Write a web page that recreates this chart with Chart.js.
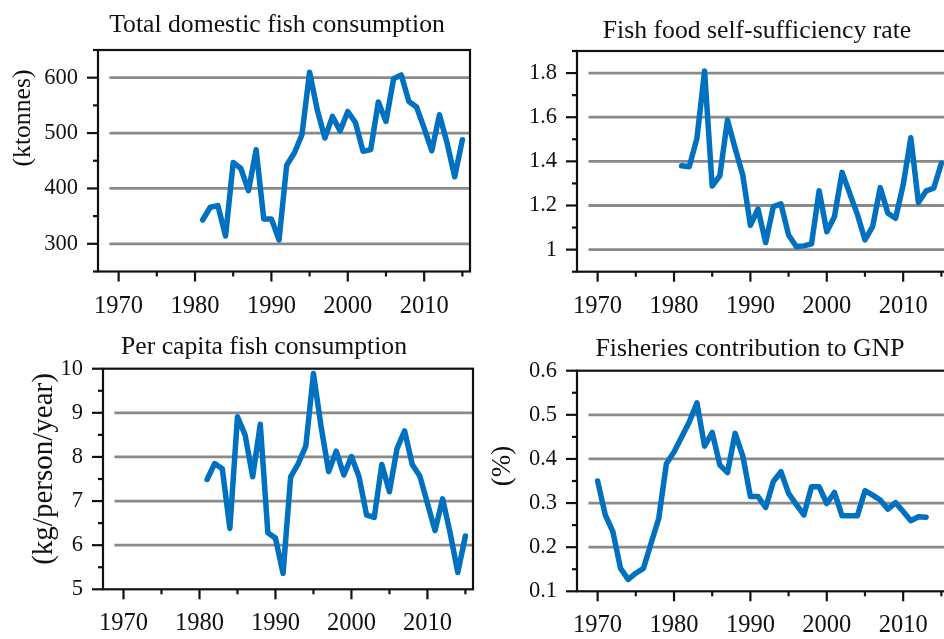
<!DOCTYPE html>
<html><head><meta charset="utf-8">
<script src="https://cdn.jsdelivr.net/npm/chart.js@4"></script>
<style>
html,body{margin:0;padding:0;background:#fff;overflow:hidden;width:944px;height:639px;position:relative}
canvas{position:absolute;left:0;top:0}
</style></head><body>
<canvas id="c1" width="960" height="639"></canvas>
<canvas id="c2" width="960" height="639"></canvas>
<canvas id="c3" width="960" height="639"></canvas>
<canvas id="c4" width="960" height="639"></canvas>
<script>
// ---- data ----
const years1981 = [1981,1982,1983,1984,1985,1986,1987,1988,1989,1990,1991,1992,1993,1994,1995,1996,1997,1998,1999,2000,2001,2002,2003,2004,2005,2006,2007,2008,2009,2010,2011,2012,2013,2014,2015];
const years1970 = [1970,1971,1972,1973,1974,1975,1976,1977,1978,1979,1980,1981,1982,1983,1984,1985,1986,1987,1988,1989,1990,1991,1992,1993,1994,1995,1996,1997,1998,1999,2000,2001,2002,2003,2004,2005,2006,2007,2008,2009,2010,2011,2012,2013];

const totalConsumption = [343,366,369,314,447,436,396,470,345,345,307,442,464,497,610,542,491,530,504,539,519,467,470,556,521,598,605,557,547,509,468,533,482,421,488];
const selfSufficiency = [1.38,1.376,1.504,1.809,1.288,1.335,1.587,1.459,1.338,1.11,1.184,1.032,1.195,1.207,1.066,1.014,1.017,1.026,1.267,1.081,1.149,1.35,1.255,1.16,1.044,1.104,1.281,1.165,1.142,1.293,1.507,1.213,1.266,1.278,1.391];
const perCapita = [7.49,7.85,7.73,6.38,8.91,8.5,7.55,8.74,6.28,6.16,5.36,7.55,7.85,8.25,9.89,8.69,7.67,8.13,7.59,8.01,7.55,6.68,6.63,7.83,7.21,8.19,8.59,7.83,7.57,6.95,6.33,7.05,6.27,5.38,6.21];
const gnpShare = [0.35,0.273,0.235,0.152,0.127,0.141,0.152,0.209,0.265,0.389,0.416,0.45,0.484,0.527,0.429,0.46,0.386,0.369,0.458,0.407,0.315,0.315,0.29,0.349,0.371,0.322,0.297,0.273,0.337,0.337,0.299,0.324,0.271,0.271,0.271,0.328,0.318,0.307,0.286,0.301,0.281,0.26,0.269,0.268];

const xMajorTicks = [1970,1980,1990,2000,2010];
const xMinorTicks = [1975,1985,1995,2005,2015];

const y1Major = [300,400,500,600];
const y1Minor = [250,350,450,550,650];
const y2Major = [1,1.2,1.4,1.6,1.8];
const y2Minor = [0.9,1.1,1.3,1.5,1.7,1.9];
const y3Major = [5,6,7,8,9,10];
const y3Minor = [5.5,6.5,7.5,8.5,9.5];
const y4Major = [0.1,0.2,0.3,0.4,0.5,0.6];
const y4Minor = [0.15,0.25,0.35,0.45,0.55];

const titles = ['Total domestic fish consumption','Fish food self-sufficiency rate','Per capita fish consumption','Fisheries contribution to GNP'];
const yTitles = ['(ktonnes)','','(kg/person/year)','(%)'];

// ---- drawing ----
const SERIF = '"Liberation Serif","DejaVu Serif",serif';
const CW = 960, CH = 639, YW = 60, XH = 50;

const framePlugin = {
  id: 'frame',
  beforeDatasetsDraw(chart, args, o) {
    const {ctx, chartArea: a, scales: {x, y}} = chart;
    ctx.save();
    ctx.strokeStyle = '#8a8a8a'; ctx.lineWidth = 2.8;
    o.grid.forEach(v => {
      const py = y.getPixelForValue(v);
      ctx.beginPath(); ctx.moveTo(x.getPixelForValue(o.gridFrom), py); ctx.lineTo(a.right, py); ctx.stroke();
    });
    ctx.restore();
  },
  afterDatasetsDraw(chart, args, o) {
    const {ctx, chartArea: a, scales: {x, y}} = chart;
    ctx.save();
    ctx.strokeStyle = '#111'; ctx.lineWidth = 2.2;
    ctx.strokeRect(a.left, a.top, a.right - a.left, a.bottom - a.top);
    const tick = (x0, y0, x1, y1) => { ctx.beginPath(); ctx.moveTo(x0, y0); ctx.lineTo(x1, y1); ctx.stroke(); };
    xMajorTicks.forEach(v => { const px = x.getPixelForValue(v); tick(px, a.bottom, px, a.bottom + 10); });
    xMinorTicks.forEach(v => { const px = x.getPixelForValue(v); if (px < a.right) tick(px, a.bottom, px, a.bottom + 5); });
    o.yMajor.forEach(v => { const py = y.getPixelForValue(v); tick(a.left - 11, py, a.left, py); });
    o.yMinor.forEach(v => { const py = y.getPixelForValue(v); tick(a.left - 5, py, a.left, py); });
    ctx.fillStyle = '#111';
    ctx.font = o.titleSize + 'px ' + SERIF;
    ctx.textAlign = 'center'; ctx.textBaseline = 'alphabetic';
    ctx.fillText(o.title, o.titleX, o.titleY);
    if (o.yTitle) {
      ctx.translate(o.yTitleX, o.yTitleY); ctx.rotate(-Math.PI / 2);
      ctx.font = o.yTitleSize + 'px ' + SERIF;
      ctx.textBaseline = 'middle';
      ctx.fillText(o.yTitle, 0, 0);
    }
    ctx.restore();
  }
};

function panel(id, xs, ys, box, yMin, yMax, yMajor, yMinor, grid, text) {
  const fmt = v => String(+Number(v).toFixed(2));
  return new Chart(document.getElementById(id), {
    type: 'line',
    data: { datasets: [{ data: xs.map((v, i) => ({x: v, y: ys[i]})), borderColor: '#0070c0', borderWidth: 5.5,
      pointRadius: 0, tension: 0, borderJoinStyle: 'round', borderCapStyle: 'round', fill: false }] },
    plugins: [framePlugin],
    options: {
      responsive: false, animation: false,
      layout: { padding: { left: box.l - YW, top: box.t, right: CW - box.r, bottom: CH - box.b - XH } },
      plugins: { legend: {display: false}, tooltip: {enabled: false}, title: {display: false},
        frame: Object.assign({ grid, gridFrom: 1968.8, yMajor, yMinor }, text) },
      scales: {
        x: { type: 'linear', min: 1967.3, max: 2016,
          afterFit: s => { s.height = XH; },
          afterBuildTicks: s => { s.ticks = xMajorTicks.map(v => ({value: v})); },
          grid: {display: false, drawTicks: false, tickLength: 0}, border: {display: false},
          ticks: { padding: 20, maxRotation: 0, autoSkip: false, color: '#111', font: {family: SERIF, size: 24.5}, callback: v => String(v) } },
        y: { type: 'linear', min: yMin, max: yMax,
          afterFit: s => { s.width = YW; },
          afterBuildTicks: s => { s.ticks = yMajor.map(v => ({value: v})); },
          grid: {display: false, drawTicks: false, tickLength: 0}, border: {display: false},
          ticks: { padding: 20, autoSkip: false, color: '#111', font: {family: SERIF, size: 22.5}, callback: fmt } }
      }
    }
  });
}

panel('c1', years1981, totalConsumption, {l: 98, r: 470, t: 50, b: 271.5}, 250, 650, y1Major, y1Minor, [300,400,500,600],
  {title: titles[0], titleX: 277, titleY: 31.5, titleSize: 25.7, yTitle: yTitles[0], yTitleX: 23, yTitleY: 118, yTitleSize: 25.7});
panel('c2', years1981, selfSufficiency, {l: 577, r: 949, t: 51, b: 271.7}, 0.9, 1.9, y2Major, y2Minor, [1,1.2,1.4,1.6,1.8],
  {title: titles[1], titleX: 757, titleY: 37.5, titleSize: 25.7, yTitle: yTitles[1]});
panel('c3', years1981, perCapita, {l: 103, r: 473, t: 368.7, b: 589.3}, 5, 10, y3Major, y3Minor, [6,7,8,9],
  {title: titles[2], titleX: 264, titleY: 354, titleSize: 25.7, yTitle: yTitles[2], yTitleX: 44, yTitleY: 469, yTitleSize: 29});
panel('c4', years1970, gnpShare, {l: 577, r: 949, t: 370.7, b: 591.3}, 0.1, 0.6, y4Major, y4Minor, [0.2,0.3,0.4,0.5],
  {title: titles[3], titleX: 750, titleY: 356, titleSize: 25.7, yTitle: yTitles[3], yTitleX: 503, yTitleY: 466, yTitleSize: 27});
</script>
</body></html>
